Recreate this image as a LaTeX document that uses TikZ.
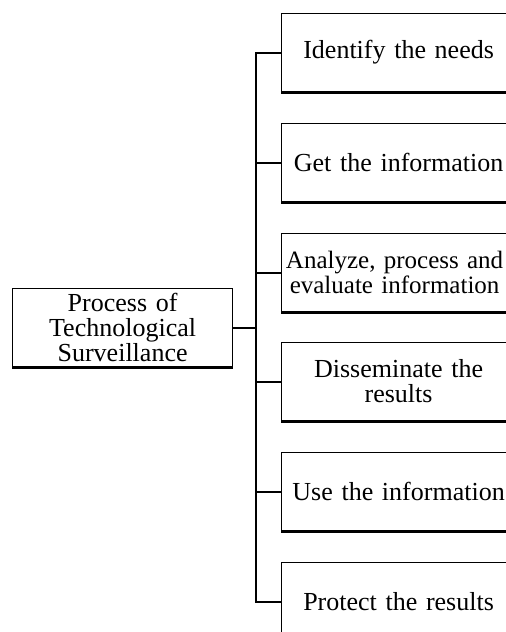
\documentclass[tikz,border=0pt]{standalone}
\usepackage{fontspec}
\setmainfont{Liberation Serif}
\begin{document}
\begin{tikzpicture}[x=1pt,y=-1pt,
  box/.style={draw, line width=1.2pt, minimum width=234pt, minimum height=78pt,
    inner sep=0pt, font=\fontsize{26}{25}\selectfont, align=center,
    text width=232pt, anchor=north west},
  rootbox/.style={box, minimum width=220pt, text width=210pt},
  link/.style={line width=2.2pt},
  base/.style={line width=2.8pt}]
\useasboundingbox (0,0) rectangle (506,632);
\clip (0,0) rectangle (506,632);
\coordinate (tr) at (256,0);
\node[rootbox] (root) at (12,288) {Process of\\Technological\\Surveillance};
\node[box] (b1) at (281,13) {Identify the needs};
\node[box] (b2) at (281,123) {Get the information};
\node[box, font=\fontsize{25}{25}\selectfont] (b3) at (281,233)
  {\hspace*{-8pt}Analyze, process and\\\hspace*{-8pt}evaluate information};
\node[box] (b4) at (281,342) {Disseminate the\\results};
\node[box] (b5) at (281,452) {Use the information};
\node[box] (b6) at (281,562) {Protect the results};
\foreach \n in {root,b1,b2,b3,b4,b5,b6}
  \draw[base] (\n.south west) -- (\n.south east);
\draw[link] (b1.west) -- (b1.west -| tr) -- (b6.west -| tr) -- (b6.west);
\foreach \n in {b2,b3,b4,b5}
  \draw[link] (\n.west) -- (\n.west -| tr);
\draw[link] (root.east) -- (root.east -| tr);
\end{tikzpicture}
\end{document}
